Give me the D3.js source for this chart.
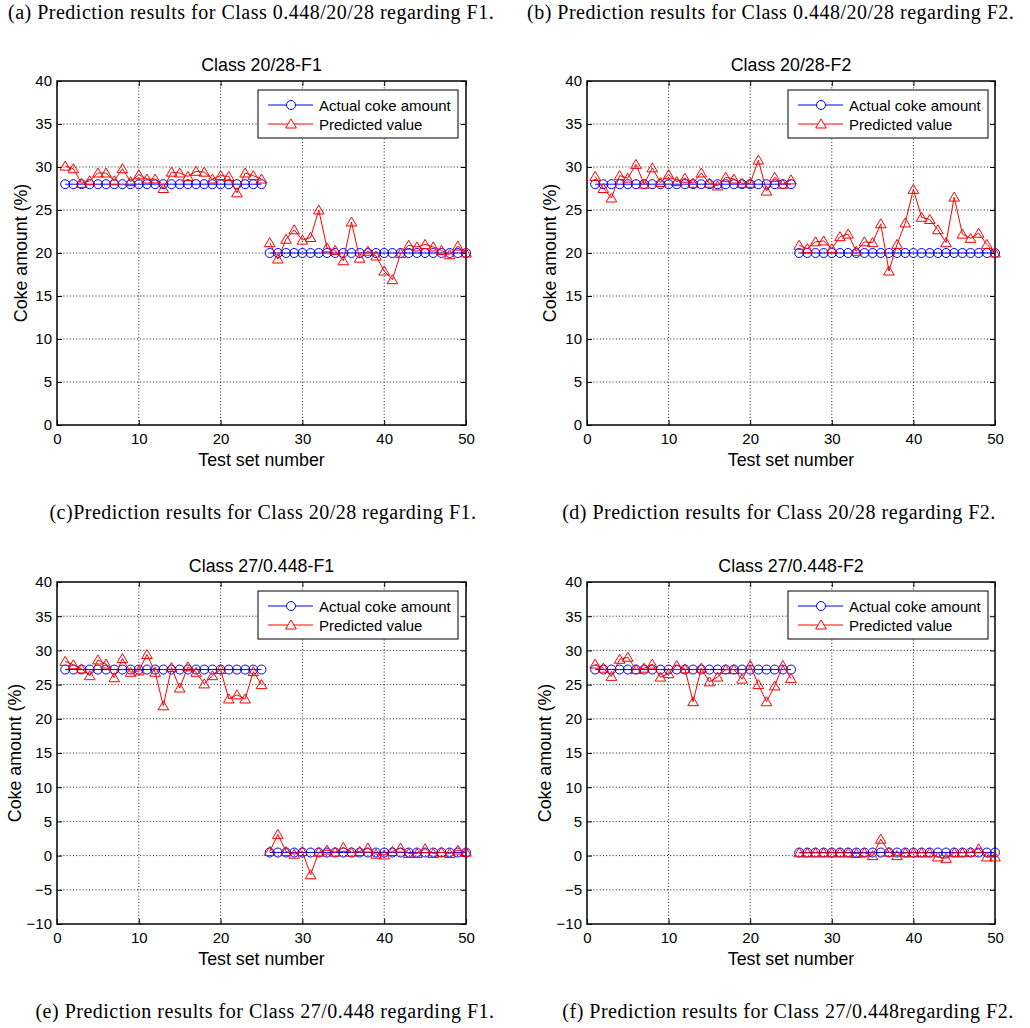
<!DOCTYPE html>
<html>
<head>
<meta charset="utf-8">
<script src="https://cdn.jsdelivr.net/npm/d3@7"></script>
<style>
  body { margin: 0; background: #fff; }
  svg { display: block; }
</style>
</head>
<body>
<svg id="chart" width="1030" height="1028"></svg>
<script>
// Test set numbers (x axis)
const testNumbers = [1,2,3,4,5,6,7,8,9,10,11,12,13,14,15,16,17,18,19,20,21,22,23,24,25,
                     26,27,28,29,30,31,32,33,34,35,36,37,38,39,40,41,42,43,44,45,46,47,48,49,50];
// Number of samples belonging to the first class of each pair
const firstClassCount = 25;

// Actual coke amount (%) for the two class pairs
const actual2028 = [28,28,28,28,28,28,28,28,28,28,28,28,28,28,28,28,28,28,28,28,28,28,28,28,28,
                    20,20,20,20,20,20,20,20,20,20,20,20,20,20,20,20,20,20,20,20,20,20,20,20,20];
const actual27 = [27.2,27.2,27.2,27.2,27.2,27.2,27.2,27.2,27.2,27.2,27.2,27.2,27.2,27.2,27.2,27.2,27.2,27.2,27.2,27.2,27.2,27.2,27.2,27.2,27.2,
                  0.448,0.448,0.448,0.448,0.448,0.448,0.448,0.448,0.448,0.448,0.448,0.448,0.448,0.448,0.448,0.448,0.448,0.448,0.448,0.448,0.448,0.448,0.448,0.448,0.448];

// Predicted coke amount (%)
const pred2028F1 = [30.1,29.8,28.1,28.4,29.3,29.3,28.4,29.8,28.3,29.1,28.6,28.6,27.5,29.4,29.3,28.9,29.5,29.4,28.6,29.0,28.9,27.0,29.3,29.0,28.6,
                    21.2,19.3,21.6,22.7,21.5,21.8,25.0,20.6,20.3,19.1,23.6,19.4,20.2,19.65,17.9,16.9,19.95,20.9,20.7,21.0,20.7,20.3,19.8,20.8,20.0];
const pred2028F2 = [28.9,27.5,26.4,29.0,28.7,30.3,28.0,29.9,28.2,29.1,28.3,28.7,28.1,29.3,28.1,27.8,28.8,28.6,28.1,28.1,30.8,27.2,28.8,28.0,28.5,
                    20.9,20.5,21.3,21.4,20.5,21.9,22.2,20.2,21.3,21.2,23.4,17.9,21.0,23.5,27.4,24.15,23.9,22.7,21.2,26.5,22.2,21.7,22.3,21.0,20.0];
const pred27F1 = [28.4,27.9,27.3,26.3,28.6,28.0,26.0,28.8,26.8,27.0,29.4,26.8,21.9,27.5,24.5,27.6,26.8,25.1,26.3,27.2,22.9,23.5,22.9,26.9,25.0,
                  0.6,3.1,0.6,0.2,0.6,-2.8,0.5,0.8,0.5,1.2,0.5,0.6,1.1,0.2,0.1,0.6,1.1,0.3,0.3,1.0,0.3,0.5,0.3,0.8,0.5];
const pred27F2 = [28.0,27.4,26.2,28.7,29.0,27.2,27.4,28.0,26.1,26.6,27.8,27.3,22.5,27.4,25.4,26.1,27.2,27.2,25.8,27.8,25.0,22.5,24.8,27.8,25.9,
                  0.4,0.4,0.4,0.4,0.4,0.4,0.4,0.3,0.4,0.0,2.4,0.5,0.0,0.4,0.4,0.4,0.4,-0.2,-0.4,0.4,0.4,0.5,1.0,-0.2,-0.2];

// Tick values
const xTicks = [0,10,20,30,40,50];
const yTicks2028 = [0,5,10,15,20,25,30,35,40];
const yTicks27 = [-10,-5,0,5,10,15,20,25,30,35,40];

// Titles, captions, legend labels
const panelTitles = ["Class 20/28-F1", "Class 20/28-F2", "Class 27/0.448-F1", "Class 27/0.448-F2"];
const headerCaptions = ["(a) Prediction results for Class 0.448/20/28 regarding F1.",
                        "(b) Prediction results for Class 0.448/20/28 regarding F2."];
const panelCaptions = ["(c)Prediction results for Class 20/28 regarding F1.",
                       "(d) Prediction results for Class 20/28 regarding F2.",
                       "(e) Prediction results for Class 27/0.448 regarding F1.",
                       "(f) Prediction results for Class 27/0.448regarding F2."];
const legendLabels = ["Actual coke amount", "Predicted value"];
const xLabel = "Test set number";
const yLabel = "Coke amount (%)";

const SANS = "'Liberation Sans', Arial, Helvetica, sans-serif";
const SERIF = "'Liberation Serif', 'Times New Roman', Times, serif";
const BLUE = "#0000ff", RED = "#ff0000";
const CAPTION_SIZE = 20, CAPTION_SPACING = 0.5;
const LABEL_SIZE = 17.8;

const svg = d3.select("#chart");
svg.append("rect").attr("width", 1030).attr("height", 1028).attr("fill", "#fff");

// header captions
const headerPos = [{x: 8, y: 19}, {x: 527, y: 19}];
headerCaptions.forEach((t, i) => {
  svg.append("text").attr("x", headerPos[i].x).attr("y", headerPos[i].y)
    .attr("font-family", SERIF).attr("font-size", CAPTION_SIZE)
    .attr("letter-spacing", CAPTION_SPACING).attr("fill", "#000").text(t);
});

const panels = [
  {actual: actual2028, pred: pred2028F1, yDomain: [0,40], yTicks: yTicks2028,
   left: 57, right: 466, top: 81, bottom: 425, ylabX: 27, capX: 263, capY: 519},
  {actual: actual2028, pred: pred2028F2, yDomain: [0,40], yTicks: yTicks2028,
   left: 587, right: 995, top: 81, bottom: 425, ylabX: 556, capX: 779, capY: 519},
  {actual: actual27, pred: pred27F1, yDomain: [-10,40], yTicks: yTicks27,
   left: 57, right: 466, top: 582, bottom: 924, ylabX: 21, capX: 265, capY: 1018},
  {actual: actual27, pred: pred27F2, yDomain: [-10,40], yTicks: yTicks27,
   left: 587, right: 995, top: 582, bottom: 924, ylabX: 551, capX: 788, capY: 1018}
];

const triPath = "M0,-5L5.3,4L-5.3,4Z";

panels.forEach((p, i) => {
  const x = d3.scaleLinear().domain([0, 50]).range([p.left, p.right]);
  const y = d3.scaleLinear().domain(p.yDomain).range([p.bottom, p.top]);
  const g = svg.append("g");

  // dotted grid at interior ticks
  const grid = g.append("g").attr("stroke", "#000").attr("stroke-width", 0.9)
    .attr("stroke-dasharray", "1,2.2");
  xTicks.slice(1, -1).forEach(t => {
    grid.append("line").attr("x1", x(t)).attr("x2", x(t)).attr("y1", p.top).attr("y2", p.bottom);
  });
  p.yTicks.slice(1, -1).forEach(t => {
    grid.append("line").attr("x1", p.left).attr("x2", p.right).attr("y1", y(t)).attr("y2", y(t));
  });

  // axes with inward ticks on all four sides
  const bottomAx = g.append("g").attr("transform", `translate(0,${p.bottom})`)
    .call(d3.axisBottom(x).tickValues(xTicks).tickSize(-5).tickPadding(8).tickFormat(d3.format("d")));
  const leftAx = g.append("g").attr("transform", `translate(${p.left},0)`)
    .call(d3.axisLeft(y).tickValues(p.yTicks).tickSize(-5).tickPadding(5).tickFormat(d3.format("d")));
  const topAx = g.append("g").attr("transform", `translate(0,${p.top})`)
    .call(d3.axisTop(x).tickValues(xTicks).tickSize(-5).tickFormat(""));
  const rightAx = g.append("g").attr("transform", `translate(${p.right},0)`)
    .call(d3.axisRight(y).tickValues(p.yTicks).tickSize(-5).tickFormat(""));
  [bottomAx, leftAx, topAx, rightAx].forEach(a => {
    a.select(".domain").remove();
    a.attr("font-family", SANS).attr("font-size", 15);
    a.selectAll("text").attr("fill", "#000");
    a.selectAll(".tick line").attr("stroke", "#000");
  });

  // plot box
  g.append("rect").attr("x", p.left).attr("y", p.top)
    .attr("width", p.right - p.left).attr("height", p.bottom - p.top)
    .attr("fill", "none").attr("stroke", "#000").attr("stroke-width", 1.5);

  // title and axis labels
  g.append("text").attr("x", (p.left + p.right) / 2).attr("y", p.top - 10)
    .attr("text-anchor", "middle").attr("font-family", SANS).attr("font-size", LABEL_SIZE)
    .attr("fill", "#000").text(panelTitles[i]);
  g.append("text").attr("x", (p.left + p.right) / 2).attr("y", p.bottom + 41)
    .attr("text-anchor", "middle").attr("font-family", SANS).attr("font-size", LABEL_SIZE)
    .attr("fill", "#000").text(xLabel);
  g.append("text").attr("transform", `translate(${p.ylabX},${(p.top + p.bottom) / 2}) rotate(-90)`)
    .attr("text-anchor", "middle").attr("font-family", SANS).attr("font-size", LABEL_SIZE)
    .attr("fill", "#000").text(yLabel);

  // series split by class
  const mk = arr => arr.map((v, k) => ({n: testNumbers[k], v}));
  const actualPts = mk(p.actual), predPts = mk(p.pred);
  const segs = pts => [pts.slice(0, firstClassCount), pts.slice(firstClassCount)];
  const line = d3.line().x(d => x(d.n)).y(d => y(d.v));

  const actG = g.append("g");
  segs(actualPts).forEach(s => actG.append("path").attr("d", line(s))
    .attr("fill", "none").attr("stroke", BLUE).attr("stroke-width", 1));
  actG.selectAll("circle").data(actualPts).join("circle")
    .attr("cx", d => x(d.n)).attr("cy", d => y(d.v)).attr("r", 4.5)
    .attr("fill", "none").attr("stroke", BLUE).attr("stroke-width", 1);

  const predG = g.append("g");
  segs(predPts).forEach(s => predG.append("path").attr("d", line(s))
    .attr("fill", "none").attr("stroke", RED).attr("stroke-width", 1));
  predG.selectAll("path.tri").data(predPts).join("path").attr("class", "tri")
    .attr("d", triPath).attr("transform", d => `translate(${x(d.n)},${y(d.v)})`)
    .attr("fill", "none").attr("stroke", RED).attr("stroke-width", 1);

  // legend
  const lg = g.append("g").attr("transform", `translate(${p.left + 201},${p.top + 9})`);
  lg.append("rect").attr("width", 200).attr("height", 48)
    .attr("fill", "#fff").attr("stroke", "#000").attr("stroke-width", 1);
  const rows = [{c: BLUE, y: 15}, {c: RED, y: 34}];
  rows.forEach((r, k) => {
    lg.append("line").attr("x1", 10).attr("x2", 55).attr("y1", r.y).attr("y2", r.y)
      .attr("stroke", r.c).attr("stroke-width", 1);
    if (k === 0) {
      lg.append("circle").attr("cx", 33).attr("cy", r.y).attr("r", 4.5)
        .attr("fill", "#fff").attr("stroke", r.c).attr("stroke-width", 1);
    } else {
      lg.append("path").attr("d", triPath).attr("transform", `translate(33,${r.y})`)
        .attr("fill", "#fff").attr("stroke", r.c).attr("stroke-width", 1);
    }
    lg.append("text").attr("x", 61).attr("y", r.y + 5.5)
      .attr("font-family", SANS).attr("font-size", 15).attr("fill", "#000").text(legendLabels[k]);
  });

  // caption below the panel
  svg.append("text").attr("x", p.capX).attr("y", p.capY).attr("text-anchor", "middle")
    .attr("font-family", SERIF).attr("font-size", CAPTION_SIZE)
    .attr("letter-spacing", CAPTION_SPACING).attr("fill", "#000").text(panelCaptions[i]);
});
</script>
</body>
</html>
